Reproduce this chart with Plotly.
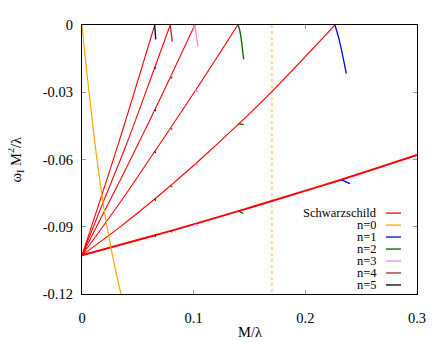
"""omega_I M^2/lambda vs M/lambda: Schwarzschild branches and n=0..5 curves."""

import plotly.graph_objects as go

FONT = "Liberation Serif, Times New Roman, Times, serif"

# Schwarzschild branches (all start at the same intercept)
schw_x = [
    [0, 0.0325, 0.0651],
    [0, 0.020, 0.040, 0.0654, 0.079],
    [0, 0.035, 0.0525, 0.0654, 0.0796, 0.101],
    [0, 0.035, 0.0654, 0.0796, 0.1035, 0.1395],
    [0, 0.035, 0.0654, 0.0796, 0.1035, 0.143, 0.170, 0.2265],
    [0, 0.0654, 0.0796, 0.1035, 0.143, 0.170, 0.2335, 0.300],
]
schw_y = [
    [-0.1027, -0.0530, 0],
    [-0.1027, -0.0778, -0.0530, -0.0186, 0],
    [-0.1027, -0.0685, -0.0508, -0.0376, -0.0228, 0],
    [-0.1027, -0.0785, -0.0562, -0.0457, -0.0278, 0],
    [-0.1027, -0.0897, -0.0775, -0.0715, -0.0611, -0.0429, -0.0297, 0],
    [-0.1027, -0.0938, -0.0918, -0.0884, -0.0826, -0.0785, -0.0688, -0.058],
]

# n = 0 curve
n0_x = [0, 0.0030, 0.0063, 0.0097, 0.0134, 0.0176, 0.0224, 0.0282, 0.0349]
n0_y = [0, -0.015, -0.030, -0.045, -0.060, -0.075, -0.090, -0.105, -0.120]

# n = 1..5: curve hanging from the top plus short pieces on the lower branches
n1_x = [0.2265, 0.2295, 0.2325, 0.2348, 0.2367, None, 0.2325, 0.2400]
n1_y = [0, -0.0050, -0.0113, -0.0163, -0.0217, None, -0.0691, -0.0708]

n2_x = [0.1399, 0.1412, 0.1424, 0.1437, 0.1448,
        None, 0.1402, 0.1446, None, 0.1400, 0.1444]
n2_y = [0, -0.0022, -0.0055, -0.0100, -0.0153,
        None, -0.0440, -0.0445, None, -0.0829, -0.0841]

n3_x = [0.1009, 0.1021, 0.1032, 0.1039,
        None, 0.1012, 0.1040, None, 0.1012, 0.1040, None, 0.1012, 0.1040]
n3_y = [0, -0.0043, -0.0072, -0.0095,
        None, -0.0291, -0.0297, None, -0.0619, -0.0625, None, -0.0888, -0.0894]

n4_x = [0.0791, 0.0801, 0.0808,
        None, 0.0792, 0.0808, None, 0.0792, 0.0808,
        None, 0.0792, 0.0808, None, 0.0792, 0.0808]
n4_y = [0, -0.0035, -0.0074,
        None, -0.0231, -0.0237, None, -0.0460, -0.0466,
        None, -0.0717, -0.0723, None, -0.0919, -0.0924]

n5_x = [0.0651, 0.0655, 0.0660,
        None, 0.0651, 0.0660, None, 0.0651, 0.0660, None, 0.0651, 0.0660,
        None, 0.0651, 0.0660, None, 0.0651, 0.0660]
n5_y = [0, -0.0030, -0.0064,
        None, -0.0188, -0.0194, None, -0.0378, -0.0384, None, -0.0564, -0.0570,
        None, -0.0777, -0.0783, None, -0.0939, -0.0944]

vline_x = 0.17

legend_names = ["Schwarzschild", "n=0", "n=1", "n=2", "n=3", "n=4", "n=5"]
colors = ["#ff0000", "#ffa500", "#0000ff", "#006400", "#ee82ee", "#a52a2a", "#000000"]

fig = go.Figure()

fig.add_trace(go.Scatter(
    x=[vline_x, vline_x], y=[0, -0.12], mode="lines",
    line=dict(color="#ffd690", width=2, dash="3px,3px"),
))

for i, (xs, ys) in enumerate(zip(schw_x, schw_y)):
    fig.add_trace(go.Scatter(
        x=xs, y=ys, mode="lines", line_shape="spline",
        line=dict(color=colors[0], width=1.9 if i == len(schw_x) - 1 else 1.1),
    ))

fig.add_trace(go.Scatter(x=n0_x, y=n0_y, mode="lines", line_shape="spline",
                         line=dict(color=colors[1], width=1.2)))
for xs, ys, c in [(n1_x, n1_y, colors[2]), (n2_x, n2_y, colors[3]),
                  (n3_x, n3_y, colors[4]), (n4_x, n4_y, colors[5]),
                  (n5_x, n5_y, colors[6])]:
    fig.add_trace(go.Scatter(x=xs, y=ys, mode="lines", connectgaps=False,
                             line=dict(color=c, width=1.3)))

# hand-made legend (gnuplot style: text right-aligned, sample to the right)
annotations = []
shapes = []
for i, (name, c) in enumerate(zip(legend_names, colors)):
    py = 210.7 + 12.33 * i
    yp = (294 - py) / 277
    annotations.append(dict(
        x=0.8866, y=yp, xref="paper", yref="paper", text=name,
        showarrow=False, xanchor="right", yanchor="middle", height=12,
        font=dict(family=FONT, size=12.5, color="black"),
    ))
    shapes.append(dict(
        type="line", xref="paper", yref="paper", x0=0.9075, x1=0.9522,
        y0=yp, y1=yp, line=dict(color=c, width=1.3),
    ))

annotations.append(dict(
    x=0.5, y=(294 - 333) / 277, xref="paper", yref="paper", text="M/λ",
    showarrow=False, xanchor="center", yanchor="middle",
    font=dict(family=FONT, size=14.5, color="black"),
))
annotations.append(dict(
    x=(15 - 82) / 335, y=0.5, xref="paper", yref="paper",
    text="ω<sub>I</sub> M<sup>2</sup>/λ", textangle=-90,
    showarrow=False, xanchor="center", yanchor="middle",
    font=dict(family=FONT, size=14.5, color="black"),
))

axis_style = dict(
    showline=True, linecolor="black", linewidth=1.2, mirror="allticks",
    ticks="inside", ticklen=4, tickcolor="#999999", tickwidth=1,
    showgrid=False, zeroline=False,
    tickfont=dict(family=FONT, size=14.5, color="black"),
)

# page body has an 8px margin, so the figure is shrunk and shifted to match
fig.update_layout(
    width=436, height=334,
    margin=dict(l=74, r=27, t=9, b=48),
    plot_bgcolor="white", paper_bgcolor="white",
    showlegend=False,
    annotations=annotations, shapes=shapes,
    xaxis=dict(range=[0, 0.3], tickvals=[0, 0.1, 0.2, 0.3],
               ticktext=["0", "0.1", "0.2", "0.3"], ticklabelstandoff=10,
               **axis_style),
    yaxis=dict(range=[-0.12, 0], tickvals=[0, -0.03, -0.06, -0.09, -0.12],
               ticktext=["0", "-0.03", "-0.06", "-0.09", "-0.12"],
               ticklabelstandoff=5, **axis_style),
)

fig.write_html("out.html")
